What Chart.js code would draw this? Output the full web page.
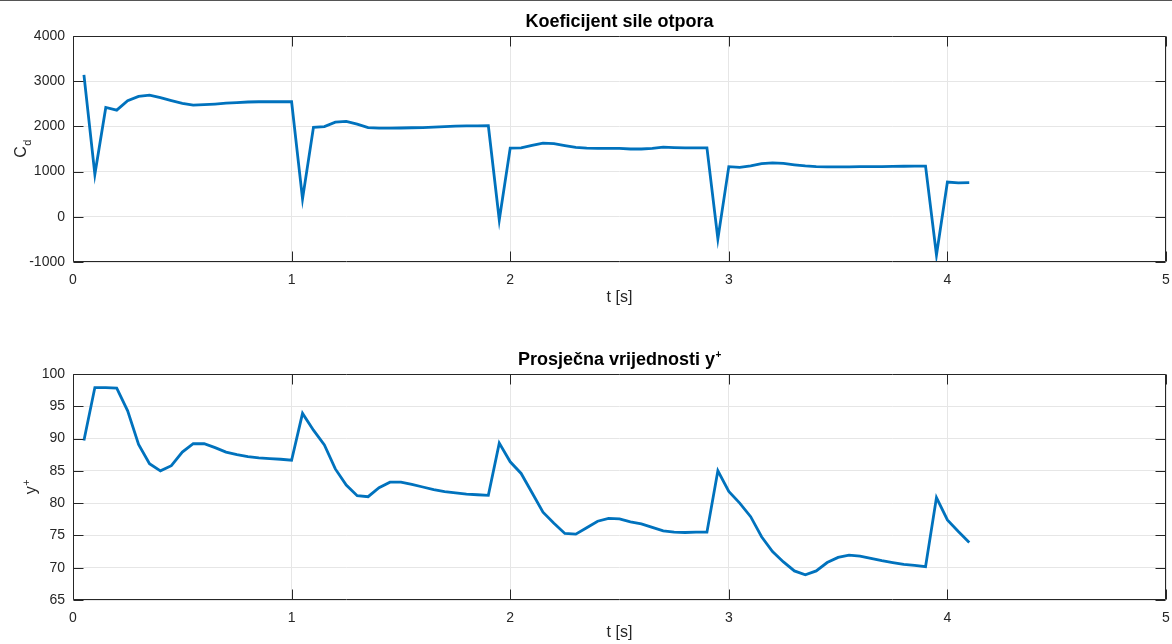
<!DOCTYPE html>
<html>
<head>
<meta charset="utf-8">
<script src="https://cdn.jsdelivr.net/npm/chart.js"></script>
<style>
  html, body { margin: 0; padding: 0; background: #fff; }
  body { width: 1172px; height: 644px; position: relative; overflow: hidden; }
  #topLine { position: absolute; left: 0; top: 0; width: 1172px; height: 1px; background: #555; }
  canvas { position: absolute; left: 0; }
  #cdChart { top: 0; }
  #ypChart { top: 322px; }
</style>
</head>
<body>
<div id="topLine"></div>
<canvas id="cdChart" width="1172" height="322"></canvas>
<canvas id="ypChart" width="1172" height="322"></canvas>
<script>
// vrijeme [s]
const time = [
  0.05, 0.10, 0.15, 0.20, 0.25, 0.30, 0.35, 0.40, 0.45, 0.50,
  0.55, 0.60, 0.65, 0.70, 0.75, 0.80, 0.85, 0.90, 0.95, 1.00,
  1.05, 1.10, 1.15, 1.20, 1.25, 1.30, 1.35, 1.40, 1.45, 1.50,
  1.55, 1.60, 1.65, 1.70, 1.75, 1.80, 1.85, 1.90, 1.95, 2.00,
  2.05, 2.10, 2.15, 2.20, 2.25, 2.30, 2.35, 2.40, 2.45, 2.50,
  2.55, 2.60, 2.65, 2.70, 2.75, 2.80, 2.85, 2.90, 2.95, 3.00,
  3.05, 3.10, 3.15, 3.20, 3.25, 3.30, 3.35, 3.40, 3.45, 3.50,
  3.55, 3.60, 3.65, 3.70, 3.75, 3.80, 3.85, 3.90, 3.95, 4.00,
  4.05, 4.10
];

// koeficijent sile otpora Cd
const cdValues = [
  3140, 940, 2420, 2360, 2570, 2665, 2690, 2635, 2570, 2510,
  2470, 2480, 2495, 2515, 2525, 2540, 2545, 2545, 2545, 2545,
  395, 1980, 1995, 2095, 2110, 2050, 1975, 1960, 1960, 1965,
  1970, 1975, 1985, 1995, 2005, 2010, 2010, 2015, -70, 1520,
  1525, 1580, 1630, 1620, 1575, 1535, 1520, 1515, 1515, 1515,
  1500, 1500, 1515, 1540, 1530, 1525, 1525, 1525, -490, 1110,
  1095, 1125, 1175, 1195, 1180, 1150, 1125, 1110, 1105, 1105,
  1105, 1108, 1110, 1112, 1115, 1118, 1120, 1122, -845, 770,
  750, 755
];

// prosjecna vrijednost y+
const yPlusValues = [
  89.7, 97.9, 97.9, 97.8, 94.3, 89.1, 86.1, 85.0, 85.8, 87.9,
  89.2, 89.2, 88.6, 87.9, 87.5, 87.2, 87.0, 86.9, 86.8, 86.65,
  93.9, 91.3, 89.0, 85.3, 82.8, 81.15, 81.0, 82.4, 83.25, 83.25,
  82.9, 82.5, 82.1, 81.8, 81.6, 81.4, 81.3, 81.2, 89.3, 86.4,
  84.6, 81.6, 78.6, 76.9, 75.3, 75.2, 76.2, 77.2, 77.65, 77.55,
  77.1, 76.8, 76.25, 75.7, 75.5, 75.45, 75.5, 75.5, 85.0, 81.8,
  80.0, 77.9, 74.8, 72.5, 70.9, 69.5, 68.9, 69.5, 70.8, 71.6,
  71.95, 71.8, 71.45, 71.1, 70.8, 70.5, 70.35, 70.15, 80.85, 77.4,
  75.6, 73.9
];

const FONT = '"Liberation Sans", Arial, Helvetica, sans-serif';
const AXIS_COLOR = '#262626';
const GRID_COLOR = '#e6e6e6';
const LINE_COLOR = '#0072bd';

// tekst s malim indeksom (sub/sup), centriran na x
function drawRichText(ctx, x, y, main, small, mode, bold, size, ratio) {
  const w = bold ? 'bold ' : '';
  ctx.font = w + size + 'px ' + FONT;
  const mw = ctx.measureText(main).width;
  const smallSize = Math.round(size * ratio);
  ctx.font = w + smallSize + 'px ' + FONT;
  const sw = small ? ctx.measureText(small).width : 0;
  const start = x - (mw + sw) / 2;
  ctx.textAlign = 'left';
  ctx.textBaseline = 'alphabetic';
  ctx.font = w + size + 'px ' + FONT;
  ctx.fillText(main, start, y);
  if (small) {
    ctx.font = w + smallSize + 'px ' + FONT;
    const dy = mode === 'sub' ? size * 0.3 : -size * 0.4;
    ctx.fillText(small, start + mw + 0.5, y + dy);
  }
}

// MATLAB stil: okvir, unutrasnje oznake, naslov i oznaka y osi
const matlabAxes = {
  id: 'matlabAxes',
  afterDraw(chart, args, opts) {
    const { ctx, chartArea: a, scales: { x, y } } = chart;
    ctx.save();
    ctx.strokeStyle = AXIS_COLOR;
    ctx.lineWidth = 1;
    ctx.beginPath();
    const L = Math.round(a.left) + 0.5, R = Math.round(a.right) - 0.5;
    const T = Math.round(a.top) + 0.5, B = Math.round(a.bottom) - 0.5;
    x.ticks.forEach(t => {
      const px = Math.round(x.getPixelForValue(t.value)) + 0.5;
      ctx.moveTo(px, B); ctx.lineTo(px, B - 10);
      ctx.moveTo(px, T); ctx.lineTo(px, T + 10);
    });
    y.ticks.forEach(t => {
      const py = Math.round(y.getPixelForValue(t.value)) + 0.5;
      ctx.moveTo(L, py); ctx.lineTo(L + 10, py);
      ctx.moveTo(R, py); ctx.lineTo(R - 10, py);
    });
    ctx.rect(L, T, R - L, B - T);
    ctx.stroke();

    ctx.fillStyle = '#000';
    const cx = (a.left + a.right) / 2;
    drawRichText(ctx, cx, a.top - 9, opts.title, opts.titleSup, 'sup', true, 18, 0.58);

    ctx.fillStyle = AXIS_COLOR;
    ctx.translate(opts.ylabelX, (a.top + a.bottom) / 2);
    ctx.rotate(-Math.PI / 2);
    drawRichText(ctx, 0, 6, opts.ylabel, opts.ylabelSmall, opts.ylabelMode, false, 16, 0.68);
    ctx.restore();
  }
};

function makeChart(id, values, yMin, yMax, yStep, cfg) {
  const points = time.map((t, i) => ({ x: t, y: values[i] }));
  return new Chart(document.getElementById(id), {
    type: 'line',
    data: {
      datasets: [{
        data: points,
        borderColor: LINE_COLOR,
        borderWidth: 2.8,
        pointRadius: 0,
        tension: 0,
        fill: false
      }]
    },
    plugins: [matlabAxes],
    options: {
      responsive: false,
      animation: false,
      layout: {
        autoPadding: false,
        padding: { left: 0, right: 6, top: cfg.top, bottom: 0 }
      },
      plugins: {
        legend: { display: false },
        tooltip: { enabled: false },
        matlabAxes: cfg.labels
      },
      scales: {
        x: {
          type: 'linear',
          min: 0,
          max: 5,
          afterFit: s => { s.height = cfg.xHeight; s.paddingRight = 0; },
          ticks: { stepSize: 1, color: AXIS_COLOR, padding: 10, font: { family: FONT, size: 14 } },
          grid: { color: GRID_COLOR, drawTicks: false },
          border: { display: false },
          title: {
            display: true,
            text: 't [s]',
            color: AXIS_COLOR,
            font: { family: FONT, size: 16 },
            padding: { top: 0, bottom: cfg.xTitlePad }
          }
        },
        y: {
          min: yMin,
          max: yMax,
          afterFit: s => { s.width = 73; },
          ticks: {
            stepSize: yStep,
            color: AXIS_COLOR,
            padding: 8,
            font: { family: FONT, size: 14 },
            callback: v => String(v)
          },
          grid: { color: GRID_COLOR, drawTicks: false },
          border: { display: false }
        }
      }
    }
  });
}

makeChart('cdChart', cdValues, -1000, 4000, 1000, {
  top: 36, xHeight: 60, xTitlePad: 15,
  labels: { title: 'Koeficijent sile otpora', titleSup: '', ylabel: 'C', ylabelSmall: 'd', ylabelMode: 'sub', ylabelX: 20 }
});

makeChart('ypChart', yPlusValues, 65, 100, 5, {
  top: 52, xHeight: 44, xTitlePad: 2,
  labels: { title: 'Prosječna vrijednosti y', titleSup: '+', ylabel: 'y', ylabelSmall: '+', ylabelMode: 'sup', ylabelX: 30 }
});
</script>
</body>
</html>
